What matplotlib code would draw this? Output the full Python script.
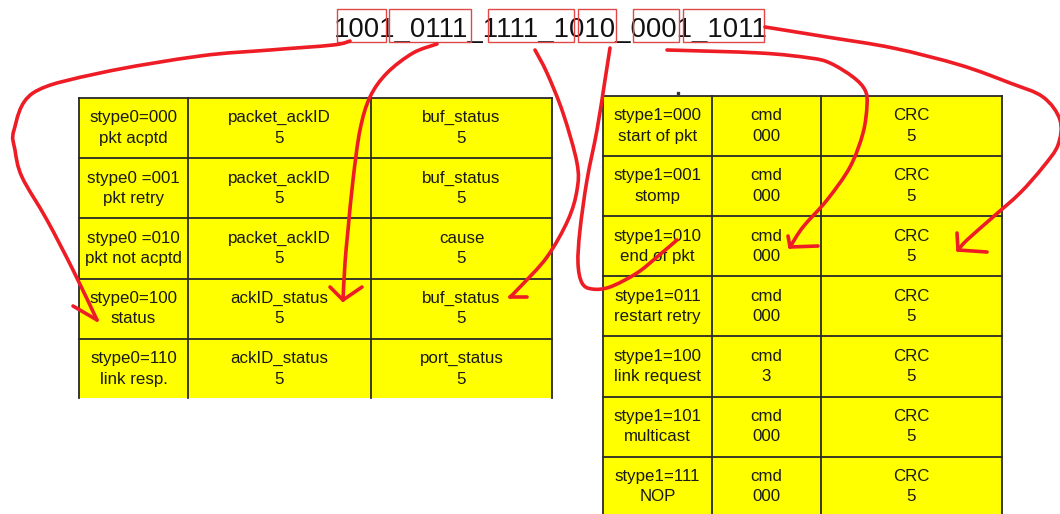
import matplotlib
matplotlib.use("Agg")
import matplotlib.pyplot as plt
from matplotlib.patches import Rectangle, PathPatch
from matplotlib.path import Path
import numpy as np

plt.rcParams['font.family'] = ['Liberation Sans', 'DejaVu Sans']

# bit string on top and the hand drawn boxes round the fields
bits = "1001_0111_1111_1010_0001_1011"
box_spans = [(337, 386), (389, 471), (488, 574), (578, 616), (633, 679), (683, 764)]

# left table: stype0
left_type = ["stype0=000\npkt acptd", "stype0 =001\npkt retry", "stype0 =010\npkt not acptd",
             "stype0=100\nstatus", "stype0=110\nlink resp."]
left_p0 = ["packet_ackID\n5", "packet_ackID\n5", "packet_ackID\n5", "ackID_status\n5", "ackID_status\n5"]
left_p1 = ["buf_status\n5", "buf_status\n5", "cause\n5", "buf_status\n5", "port_status\n5"]

# right table: stype1
right_type = ["stype1=000\nstart of pkt", "stype1=001\nstomp", "stype1=010\nend of pkt",
              "stype1=011\nrestart retry", "stype1=100\nlink request", "stype1=101\nmulticast",
              "stype1=111\nNOP"]
right_cmd = ["cmd\n000", "cmd\n000", "cmd\n000", "cmd\n000", "cmd\n3", "cmd\n000", "cmd\n000"]
right_crc = ["CRC\n5"] * 7

# hand drawn red arrows, tip is the last point
arrows = [
    ([(350, 41), (333, 45), (270, 50), (200, 56), (100, 73), (33, 93), (14, 130), (15, 150),
      (22, 177), (47, 220), (73, 270), (97, 320)], [(73, 306)]),
    ([(437, 44), (413, 53), (387, 73), (370, 97), (360, 130), (353, 180), (348, 230),
      (345, 263), (343, 300)], [(330, 287), (362, 287)]),
    ([(535, 50), (547, 73), (563, 113), (577, 163), (577, 190), (568, 220), (547, 257),
      (520, 287), (510, 297)], [(527, 297)]),
    ([(610, 48), (605, 80), (597, 130), (587, 180), (580, 230), (578, 263), (582, 283),
      (592, 289), (610, 287), (637, 273), (657, 257), (677, 240)], []),
    ([(667, 50), (760, 53), (810, 58), (830, 63), (853, 77), (865, 90), (867, 105), (863, 133),
      (850, 167), (827, 200), (803, 227), (790, 247)], [(818, 246), (788, 236)]),
    ([(765, 27), (827, 37), (893, 48), (960, 65), (1010, 83), (1043, 97), (1060, 120),
      (1058, 145), (1043, 167), (1020, 193), (993, 217), (967, 240), (958, 250)],
     [(987, 252), (957, 233)]),
]

RED = '#ee1c25'


def smooth_path(pts):
    # Catmull-Rom through the traced points, drawn as cubic bezier segments
    p = np.array(pts, dtype=float)
    ext = np.vstack([p[0], p, p[-1]])
    verts = [tuple(p[0])]
    codes = [Path.MOVETO]
    for i in range(1, len(ext) - 2):
        c1 = ext[i] + (ext[i + 1] - ext[i - 1]) / 6
        c2 = ext[i + 1] - (ext[i + 2] - ext[i]) / 6
        verts += [tuple(c1), tuple(c2), tuple(ext[i + 1])]
        codes += [Path.CURVE4] * 3
    return Path(verts, codes)


def draw_table(ax, x_edges, y_top, row_h, rows, bottom_cut):
    n = len(rows)
    for i, row in enumerate(rows):
        y0 = y_top + i * row_h
        h = min(row_h, bottom_cut - y0)
        for j, txt in enumerate(row):
            ax.add_patch(Rectangle((x_edges[j], y0), x_edges[j + 1] - x_edges[j], h,
                                   facecolor='#ffff00', edgecolor='none', zorder=1))
            ax.text((x_edges[j] + x_edges[j + 1]) / 2, y0 + row_h / 2, txt,
                    ha='center', va='center', fontsize=12.2, color='#1a1a1a',
                    linespacing=1.45, zorder=3)
    bottom = min(y_top + n * row_h, bottom_cut)
    # grid lines
    for xe in x_edges:
        ax.plot([xe, xe], [y_top, bottom], color='#2a2a2a', lw=1.3, zorder=2)
    for i in range(n + 1):
        ye = y_top + i * row_h
        if ye < bottom_cut:
            ax.plot([x_edges[0], x_edges[-1]], [ye, ye], color='#2a2a2a', lw=1.3, zorder=2)


fig = plt.figure(figsize=(10.6, 5.14), dpi=100)
ax = fig.add_axes([0, 0, 1, 1])
ax.set_xlim(0, 1060)
ax.set_ylim(514, 0)
ax.axis('off')

# top bit string
ax.text(551, 37, bits, ha='center', va='baseline', fontsize=19.8, color='#111111', zorder=3)
for x0, x1 in box_spans:
    ax.add_patch(Rectangle((x0, 9), x1 - x0, 33, facecolor='none', edgecolor='#e04848',
                           lw=1.0, zorder=4))

draw_table(ax, [79, 188, 371, 552], 98, 60.2,
           list(zip(left_type, left_p0, left_p1)), 398)
draw_table(ax, [603, 712, 821, 1002], 96, 60.1,
           list(zip(right_type, right_cmd, right_crc)), 516)
ax.plot([678], [93], marker='s', ms=1.5, color='#333333', zorder=2)

# red arrows
for pts, heads in arrows:
    ax.add_patch(PathPatch(smooth_path(pts), facecolor='none', edgecolor=RED, lw=2.6,
                           capstyle='round', joinstyle='round', zorder=5))
    tip = pts[-1]
    for hx, hy in heads:
        ax.plot([tip[0], hx], [tip[1], hy], color=RED, lw=2.6, solid_capstyle='round', zorder=5)

fig.savefig("out.png", dpi=100)
